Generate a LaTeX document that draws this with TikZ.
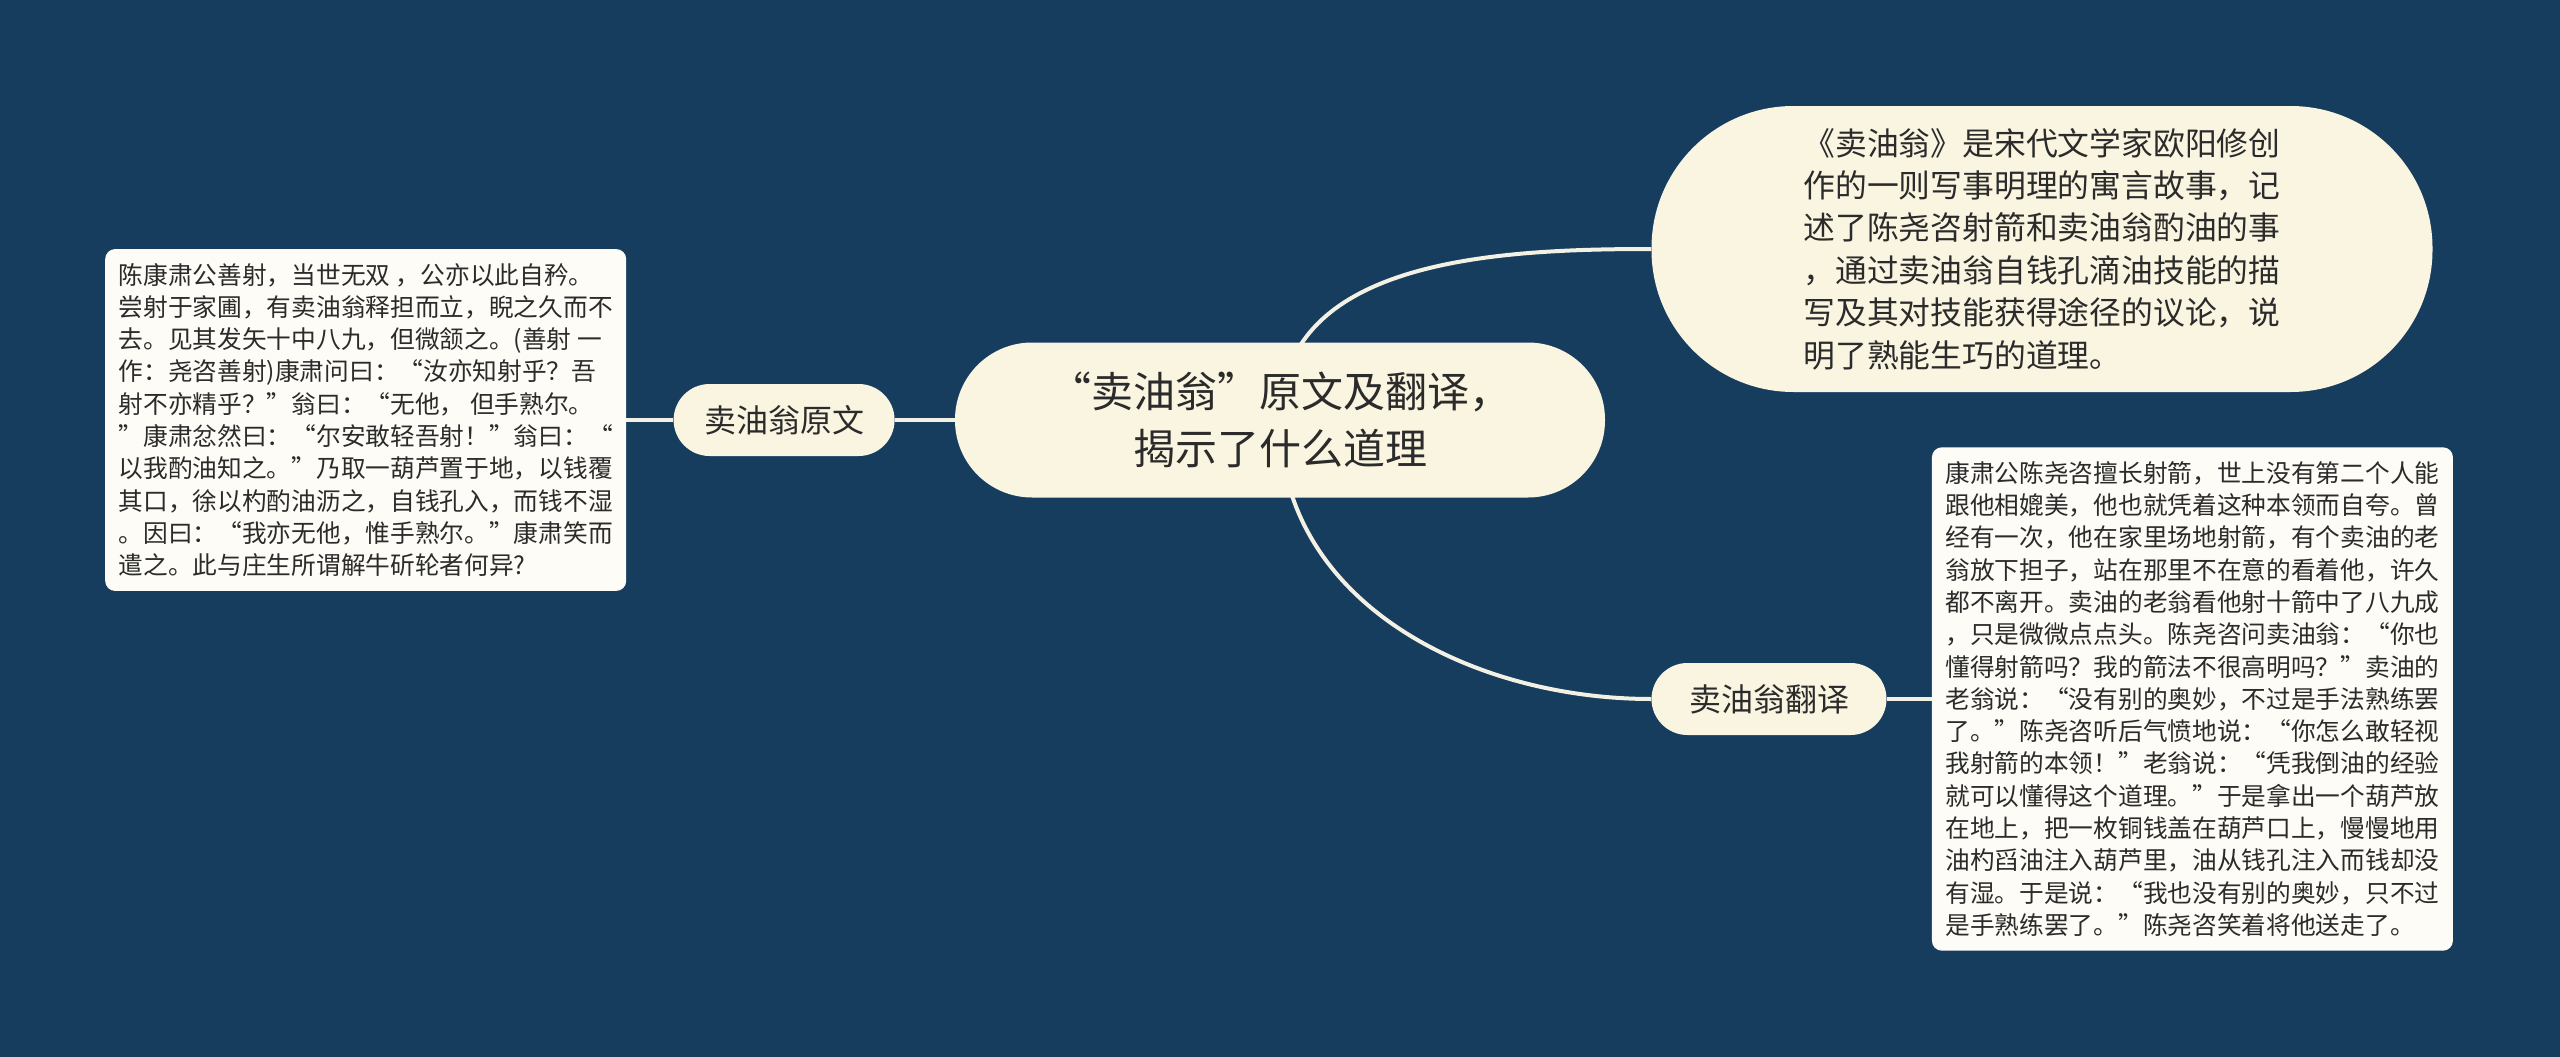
\documentclass[tikz,border=0pt]{standalone}
\usepackage{fontspec}
\setmainfont{Noto Sans CJK SC}
\usepackage{xcolor}
\usetikzlibrary{positioning}
\definecolor{navy}{HTML}{173D5E}
\definecolor{cream}{HTML}{FAF5E1}
\definecolor{paper}{HTML}{FDFCF6}
\definecolor{ink}{HTML}{2B2B2B}
\definecolor{wire}{HTML}{F3F0E4}
\pgfdeclarelayer{canvas}
\pgfdeclarelayer{links}
\pgfsetlayers{canvas,links,main}

\begin{document}
\begin{tikzpicture}[x=1pt,y=1pt,
  hub/.style={fill=cream,text=ink,rounded corners=77pt,minimum width=650pt,minimum height=155pt,align=center,font=\fontsize{42}{57}\selectfont},
  br/.style={fill=cream,text=ink,rounded corners=36pt,minimum height=72pt,font=\fontsize{32}{40}\selectfont},
  note/.style={fill=cream,text=ink,rounded corners=142pt,minimum width=781pt,minimum height=286pt,align=left,font=\fontsize{31.8}{42.4}\selectfont},
  txt/.style={fill=paper,text=ink,rounded corners=10pt,minimum width=521pt,align=left,inner xsep=10pt,inner ysep=14pt,font=\fontsize{24.7}{32.3}\selectfont},
  lnk/.style={draw=wire,line width=4pt},
  every node/.style={inner sep=0pt}]
\begin{pgfonlayer}{canvas}
\fill[navy] (0,0) rectangle (2560,-1057);
\end{pgfonlayer}
\node[hub] (main) at (1280,-420) {“卖油翁”原文及翻译，\\揭示了什么道理};
\node[br,minimum width=221pt,left=60pt of main] (orig) {卖油翁原文};
\node[txt,left=47pt of orig] (origtxt) {陈康肃公善射，当世无双 ，公亦以此自矜。\\
尝射于家圃，有卖油翁释担而立，睨之久而不\\
去。见其发矢十中八九，但微颔之。(善射 一\\
作：尧咨善射)康肃问曰：“汝亦知射乎？吾\\
射不亦精乎？”翁曰：“无他， 但手熟尔。\\
”康肃忿然曰：“尔安敢轻吾射！”翁曰：“\\
以我酌油知之。”乃取一葫芦置于地，以钱覆\\
其口，徐以杓酌油沥之，自钱孔入，而钱不湿\\
。因曰：“我亦无他，惟手熟尔。”康肃笑而\\
遣之。此与庄生所谓解牛斫轮者何异?};
\node[note] (intro) at (2042,-249) {《卖油翁》是宋代文学家欧阳修创\\
作的一则写事明理的寓言故事，记\\
述了陈尧咨射箭和卖油翁酌油的事\\
，通过卖油翁自钱孔滴油技能的描\\
写及其对技能获得途径的议论，说\\
明了熟能生巧的道理。};
\node[br,minimum width=235pt] (trans) at (1769,-699) {卖油翁翻译};
\node[txt,right=45pt of trans] (transtxt) {康肃公陈尧咨擅长射箭，世上没有第二个人能\\
跟他相媲美，他也就凭着这种本领而自夸。曾\\
经有一次，他在家里场地射箭，有个卖油的老\\
翁放下担子，站在那里不在意的看着他，许久\\
都不离开。卖油的老翁看他射十箭中了八九成\\
，只是微微点点头。陈尧咨问卖油翁：“你也\\
懂得射箭吗？我的箭法不很高明吗？”卖油的\\
老翁说：“没有别的奥妙，不过是手法熟练罢\\
了。”陈尧咨听后气愤地说：“你怎么敢轻视\\
我射箭的本领！”老翁说：“凭我倒油的经验\\
就可以懂得这个道理。”于是拿出一个葫芦放\\
在地上，把一枚铜钱盖在葫芦口上，慢慢地用\\
油杓舀油注入葫芦里，油从钱孔注入而钱却没\\
有湿。于是说：“我也没有别的奥妙，只不过\\
是手熟练罢了。”陈尧咨笑着将他送走了。};
\begin{pgfonlayer}{links}
\draw[lnk] (origtxt) -- (orig);
\draw[lnk] (orig) -- (main);
\draw[lnk] (main.center) to[out=90,in=180] (intro.west);
\draw[lnk] (main.center) to[out=-90,in=180] (trans.west);
\draw[lnk] (trans) -- (transtxt);
\end{pgfonlayer}
\end{tikzpicture}
\end{document}
